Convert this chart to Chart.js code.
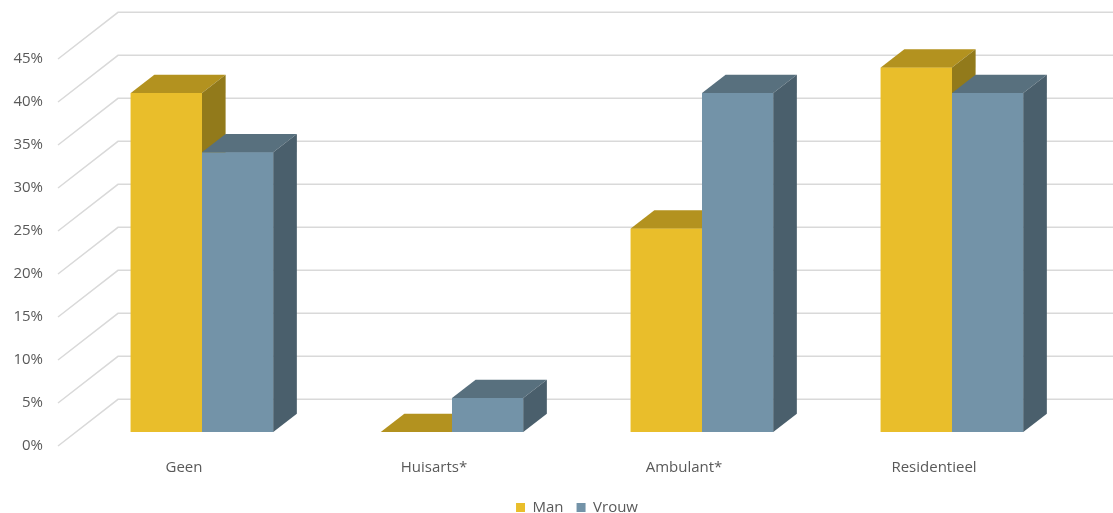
<!DOCTYPE html>
<html>
<head>
<meta charset="utf-8">
<script src="https://cdn.jsdelivr.net/npm/chart.js@4.4.1/dist/chart.umd.min.js"></script>
<style>
  html, body { margin: 0; padding: 0; background: #fff; }
  #wrap { width: 1113px; height: 513px; }
</style>
</head>
<body>
<div id="wrap"><canvas id="chart"></canvas></div>
<script>
const categories = ['Geen', 'Huisarts*', 'Ambulant*', 'Residentieel'];
const manValues = [40, 0, 24, 43];
const vrouwValues = [33, 4, 40, 40];
const yTicks = [0, 5, 10, 15, 20, 25, 30, 35, 40, 45];

// fake 3d: bars get a top and a right face, walls get a slanted side + back lines
const BAR_DEPTH = { dx: 23.6, dy: 18.3 };
const WALL_DEPTH = { dx: 60, dy: 46.7 };
const WALL_FRONT_X = 58;
const faces = [
  { top: '#b3921f', side: '#927a1b' },
  { top: '#58707e', side: '#4a5f6c' },
];

// pin a value scale so that two values land on given pixels
function pinScale(scale, v0, p0, v1, p1) {
  const k = (p0 - p1) / (v1 - v0);
  scale.min = v0 - (scale.bottom - p0) / k;
  scale.max = v0 + (p0 - scale.top) / k;
  scale.configure();
}

const pinAxes = {
  id: 'pinAxes',
  afterLayout(chart) {
    pinScale(chart.scales.y, 0, 432, 40, 93);
    pinScale(chart.scales.yLabels, 0, 446, 45, 59);
  },
};

const walls = {
  id: 'walls',
  beforeDatasetsDraw(chart) {
    const { ctx } = chart;
    const yl = chart.scales.yLabels;
    ctx.save();
    ctx.strokeStyle = '#d9d9d9';
    ctx.lineWidth = 1.5;
    yTicks.forEach(v => {
      const y = yl.getPixelForValue(v);
      ctx.beginPath();
      ctx.moveTo(WALL_FRONT_X, y);
      ctx.lineTo(WALL_FRONT_X + WALL_DEPTH.dx, y - WALL_DEPTH.dy);
      ctx.lineTo(chart.width, y - WALL_DEPTH.dy);
      ctx.stroke();
    });
    ctx.restore();
  },
};

// chart.js paints the last dataset first, so the boxes are redrawn here
// left to right: front, top, side, letting each front hide its neighbour's side
const boxFaces = {
  id: 'boxFaces',
  afterDatasetsDraw(chart) {
    const { ctx } = chart;
    const { dx, dy } = BAR_DEPTH;
    ctx.save();
    chart.data.datasets.forEach((ds, i) => {
      const f = faces[i];
      chart.getDatasetMeta(i).data.forEach(bar => {
        const { x, y, base, width } = bar.getProps(['x', 'y', 'base', 'width'], true);
        const l = x - width / 2;
        const r = x + width / 2;
        bar.draw(ctx);
        ctx.fillStyle = f.top;
        ctx.beginPath();
        ctx.moveTo(l, y);
        ctx.lineTo(r, y);
        ctx.lineTo(r + dx, y - dy);
        ctx.lineTo(l + dx, y - dy);
        ctx.closePath();
        ctx.fill();
        ctx.fillStyle = f.side;
        ctx.beginPath();
        ctx.moveTo(r, y);
        ctx.lineTo(r + dx, y - dy);
        ctx.lineTo(r + dx, base - dy);
        ctx.lineTo(r, base);
        ctx.closePath();
        ctx.fill();
      });
    });
    ctx.restore();
  },
};

Chart.defaults.font.family = "'Open Sans', sans-serif";
Chart.defaults.font.size = 15;
Chart.defaults.color = '#595959';

new Chart(document.getElementById('chart'), {
  type: 'bar',
  data: {
    labels: categories,
    datasets: [
      { label: 'Man', data: manValues, backgroundColor: '#e9be2b' },
      { label: 'Vrouw', data: vrouwValues, backgroundColor: '#7393a8' },
    ],
  },
  options: {
    responsive: true,
    maintainAspectRatio: false,
    animation: false,
    categoryPercentage: 0.57,
    barPercentage: 1,
    borderWidth: 0,
    layout: { padding: { left: 0, right: 36, top: 0, bottom: -12 } },
    scales: {
      x: {
        grid: { display: false },
        border: { display: false },
        ticks: { labelOffset: -18, padding: 3 },
        afterFit: s => { s.height += 7; },
      },
      y: {
        display: false,
        min: 0,
        max: 45,
      },
      yLabels: {
        type: 'linear',
        position: 'left',
        min: -1,
        max: 50,
        grid: { display: false },
        border: { display: false },
        ticks: { padding: 26, callback: v => v + '%' },
        afterBuildTicks: s => { s.ticks = yTicks.map(v => ({ value: v })); },
        afterFit: s => { s.width = 77; },
      },
    },
    plugins: {
      legend: {
        position: 'bottom',
        fullSize: false,
        labels: { boxWidth: 9, boxHeight: 9, padding: 13 },
      },
      tooltip: { enabled: false },
    },
  },
  plugins: [pinAxes, walls, boxFaces],
});
</script>
</body>
</html>
